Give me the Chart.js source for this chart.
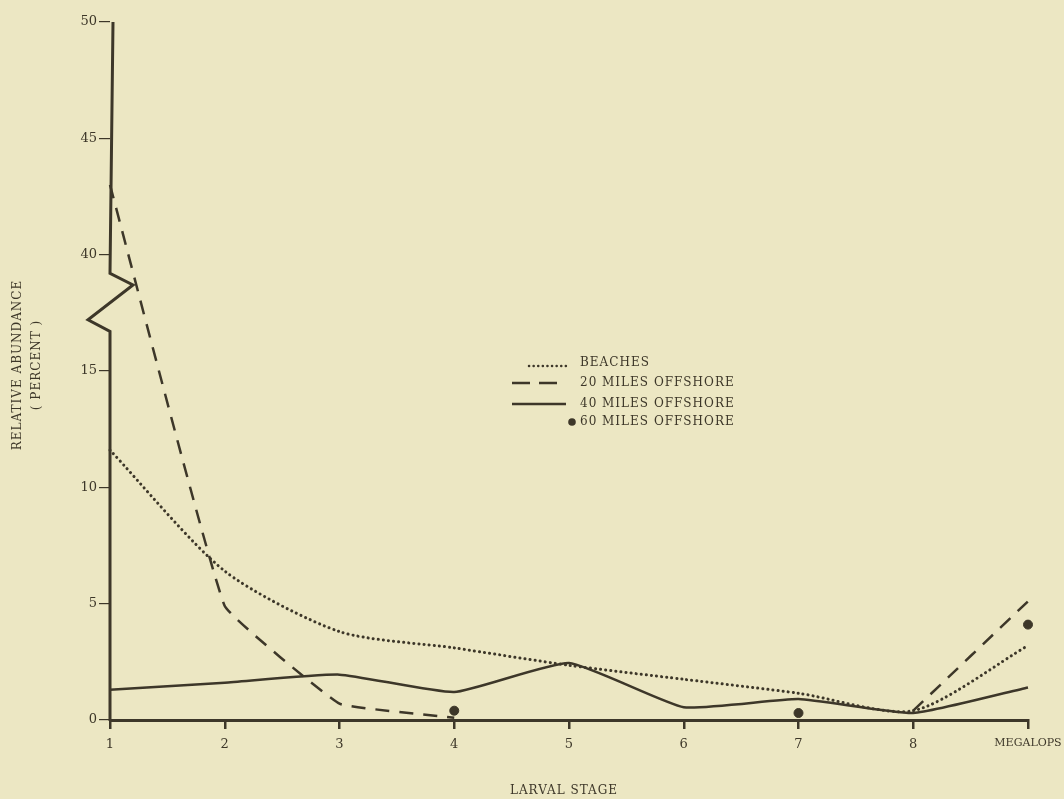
<!DOCTYPE html>
<html>
<head>
<meta charset="utf-8">
<script src="https://cdn.jsdelivr.net/npm/chart.js@4/dist/chart.umd.min.js"></script>
<style>
  html, body { margin: 0; padding: 0; background: #ece7c3; }
  #wrap { width: 1064px; height: 799px; }
</style>
</head>
<body>
<div id="wrap"><canvas id="chart"></canvas></div>
<script>
// larval stages (9 = megalops)
const stages = [1, 2, 3, 4, 5, 6, 7, 8, 9];
const stageLabels = ["1", "2", "3", "4", "5", "6", "7", "8", "MEGALOPS"];

// relative abundance (percent)
const beaches = [11.6, 6.4, 3.8, 3.1, 2.35, 1.75, 1.15, 0.4, 3.2];
const miles20 = [43.0, 4.9, 0.7, 0.1, null, null, null, 0.4, 5.1];
const miles40 = [1.3, 1.6, 1.95, 1.2, 2.45, 0.55, 0.9, 0.3, 1.4];
const miles60 = [null, null, null, 0.4, null, null, 0.3, null, 4.1];

const yTicks = [0, 5, 10, 15, 40, 45, 50];

const ink = "#3d3729";
const serif = "'DejaVu Serif', 'Liberation Serif', serif";

// axis is broken between 15 and 40
function toAxis(v) {
  if (v == null) return null;
  return v > 15 ? v - 20 : v;
}
function fromAxis(v) {
  return v > 15 ? v + 20 : v;
}
function pts(arr) {
  return stages.map((s, i) => ({ x: s, y: toAxis(arr[i]) }));
}

const extras = {
  id: "extras",
  beforeDraw(chart) {
    const c = chart.ctx;
    c.save();
    c.fillStyle = "#ece7c3";
    c.fillRect(0, 0, chart.width, chart.height);
    c.restore();
  },
  afterDatasetsDraw(chart) {
    const c = chart.ctx;
    const x = chart.scales.x, y = chart.scales.y;
    const x0 = x.getPixelForValue(1);
    c.save();
    // y axis with break
    c.strokeStyle = ink;
    c.lineWidth = 3;
    c.lineJoin = "miter";
    c.beginPath();
    c.moveTo(x0, y.getPixelForValue(0) + 1);
    c.lineTo(x0, y.getPixelForValue(16.7));
    c.lineTo(x0 - 22, y.getPixelForValue(17.2));
    c.lineTo(x0 + 23, y.getPixelForValue(18.7));
    c.lineTo(x0, y.getPixelForValue(19.2));
    c.lineTo(x0 + 3, y.getPixelForValue(30));
    c.stroke();

    // axis titles
    c.fillStyle = ink;
    c.font = "12px " + serif;
    c.letterSpacing = "1px";
    c.textAlign = "center";
    c.textBaseline = "middle";
    c.fillText("LARVAL STAGE", 564, 791);
    c.save();
    c.translate(18, 365);
    c.rotate(-Math.PI / 2);
    c.fillText("RELATIVE ABUNDANCE", 0, 0);
    c.fillText("( PERCENT )", 0, 19);
    c.restore();

    // legend
    c.textAlign = "left";
    const lx = 580;
    const rows = [363, 383, 404, 422];
    const names = ["BEACHES", "20 MILES OFFSHORE", "40 MILES OFFSHORE", "60 MILES OFFSHORE"];
    c.font = "12px " + serif;
    c.letterSpacing = "1px";
    names.forEach((n, i) => c.fillText(n, lx, rows[i]));
    c.letterSpacing = "0px";
    c.lineWidth = 2.5;
    c.lineCap = "round";
    c.setLineDash([0.1, 4.5]);
    c.beginPath(); c.moveTo(529, rows[0] + 3); c.lineTo(566, rows[0] + 3); c.stroke();
    c.lineCap = "butt";
    c.setLineDash([18, 9]);
    c.beginPath(); c.moveTo(512, rows[1]); c.lineTo(566, rows[1]); c.stroke();
    c.setLineDash([]);
    c.beginPath(); c.moveTo(512, rows[2]); c.lineTo(566, rows[2]); c.stroke();
    c.beginPath(); c.arc(572, rows[3], 3.8, 0, Math.PI * 2); c.fill();
    c.restore();
  }
};

new Chart(document.getElementById("chart"), {
  type: "line",
  data: {
    datasets: [
      {
        label: "BEACHES",
        data: pts(beaches),
        borderColor: ink,
        borderWidth: 3,
        borderDash: [0.1, 5],
        borderCapStyle: "round",
        tension: 0.25,
        pointRadius: 0,
        clip: false
      },
      {
        label: "20 MILES OFFSHORE",
        data: pts(miles20),
        borderColor: ink,
        borderWidth: 2.5,
        borderDash: [14, 10],
        tension: 0.08,
        spanGaps: false,
        pointRadius: 0,
        clip: false
      },
      {
        label: "40 MILES OFFSHORE",
        data: pts(miles40),
        borderColor: ink,
        borderWidth: 2.5,
        tension: 0.15,
        pointRadius: 0,
        clip: false
      },
      {
        label: "60 MILES OFFSHORE",
        data: pts(miles60),
        showLine: false,
        pointRadius: 4.5,
        pointBackgroundColor: ink,
        pointBorderColor: ink,
        clip: false
      }
    ]
  },
  options: {
    responsive: true,
    maintainAspectRatio: false,
    animation: false,
    layout: { padding: { top: 22, right: 36, left: 0, bottom: 0 } },
    plugins: {
      legend: { display: false },
      tooltip: { enabled: false }
    },
    scales: {
      x: {
        type: "linear",
        min: 1,
        max: 9,
        afterFit(s) { s.height = 79; s.paddingLeft = 0; s.paddingRight = 0; },
        afterBuildTicks(s) { s.ticks = stages.map(v => ({ value: v })); },
        border: { display: true, color: ink, width: 3 },
        grid: { display: true, drawOnChartArea: false, color: ink, lineWidth: 2.5, tickLength: 9 },
        ticks: {
          color: ink,
          font: c => ({ family: serif, size: c.index === 8 ? 11 : 13 }),
          padding: 8,
          maxRotation: 0,
          callback: v => stageLabels[stages.indexOf(v)]
        }
      },
      y: {
        min: 0,
        max: 30,
        afterFit(s) { s.width = 110; },
        afterBuildTicks(s) { s.ticks = yTicks.map(v => ({ value: toAxis(v) })); },
        border: { display: false },
        grid: { display: true, drawOnChartArea: false, color: ink, lineWidth: 1.2, tickLength: 11 },
        ticks: {
          color: ink,
          font: { family: serif, size: 13 },
          padding: 2,
          callback: v => String(fromAxis(v))
        }
      }
    }
  },
  plugins: [extras]
});
</script>
</body>
</html>
